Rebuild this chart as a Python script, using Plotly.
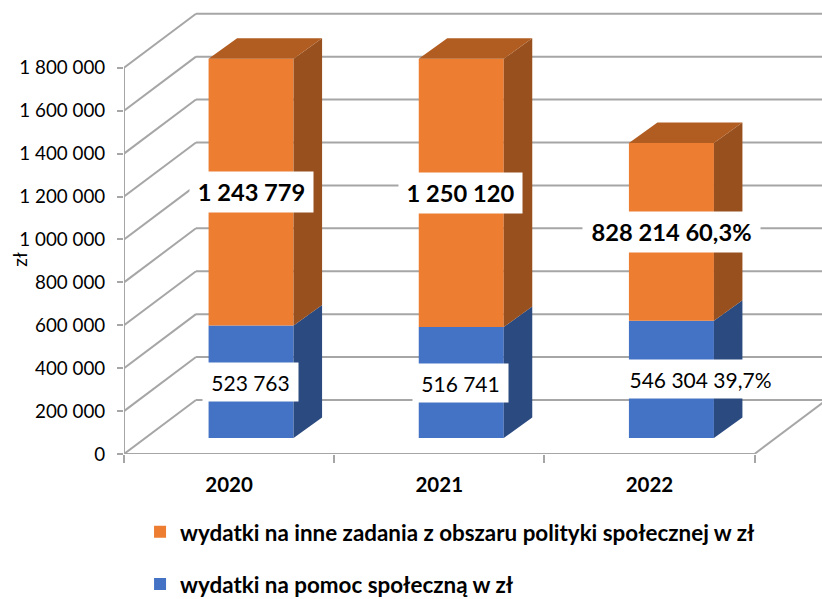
import plotly.graph_objects as go

YEARS = ["2020", "2021", "2022"]
POMOC = [523763, 516741, 546304]
INNE = [1243779, 1250120, 828214]
POMOC_LABELS = ["523 763", "516 741", "546 304 39,7%"]
INNE_LABELS = ["1 243 779", "1 250 120", "828 214 60,3%"]
Y_TICKS = [0, 200000, 400000, 600000, 800000, 1000000, 1200000, 1400000, 1600000, 1800000]
Y_TICK_LABELS = ["0", "200 000", "400 000", "600 000", "800 000", "1 000 000",
                 "1 200 000", "1 400 000", "1 600 000", "1 800 000"]
NAME_POMOC = "wydatki na pomoc społeczną w zł"
NAME_INNE = "wydatki na inne zadania z obszaru polityki społecznej w zł"

FONT = "Lato"
GRID = "#A6A6A6"
BLUE, BLUE_SIDE = "#4472C4", "#2B4A80"
ORANGE, ORANGE_SIDE, ORANGE_TOP = "#ED7D31", "#97501E", "#B15D22"

# pseudo-3D geometry in axis units
W, H = 822, 599
PX_X = 210.17
PX_Y = 214.44e-6
ML, MB = 124, 145.3
FLOOR_DX, FLOOR_DY = 72 / PX_X, 54 / PX_Y
BAR_SHIFT = 22 / PX_X
BAR_W = 85 / PX_X
BAR_BASE = 16 / PX_Y
DEPTH_X, DEPTH_Y = 28.5 / PX_X, 20.5 / PX_Y
X_RANGE = [-0.5, 2.5 + (W - 754.5) / PX_X]
Y_RANGE = [0, (H - MB) / PX_Y]

xs = [i + BAR_SHIFT for i in range(len(YEARS))]
tops_blue = [BAR_BASE + v for v in POMOC]
tops_all = [BAR_BASE + a + b for a, b in zip(POMOC, INNE)]

fig = go.Figure()
fig.add_bar(x=xs, y=POMOC, base=BAR_BASE, width=BAR_W, name=NAME_POMOC, legendrank=2,
            marker=dict(color=BLUE, line=dict(width=0)), legendgroup="a", hoverinfo="skip")
fig.add_bar(x=xs, y=INNE, base=tops_blue, width=BAR_W, name=NAME_INNE, legendrank=1,
            marker=dict(color=ORANGE, line=dict(width=0)), legendgroup="b", hoverinfo="skip")


def poly(pts_list, color):
    px, py = [], []
    for pts in pts_list:
        px += [p[0] for p in pts] + [pts[0][0], None]
        py += [p[1] for p in pts] + [pts[0][1], None]
    fig.add_scatter(x=px, y=py, mode="lines", fill="toself", fillcolor=color,
                    line=dict(width=0, color=color), showlegend=False, hoverinfo="skip")


def side(x, y0, y1):
    r = x + BAR_W / 2
    return [(r, y0), (r + DEPTH_X, y0 + DEPTH_Y), (r + DEPTH_X, y1 + DEPTH_Y), (r, y1)]


def top(x, y):
    l, r = x - BAR_W / 2, x + BAR_W / 2
    return [(l, y), (r, y), (r + DEPTH_X, y + DEPTH_Y), (l + DEPTH_X, y + DEPTH_Y)]


poly([side(x, BAR_BASE, t) for x, t in zip(xs, tops_blue)], BLUE_SIDE)
poly([side(x, b, t) for x, b, t in zip(xs, tops_blue, tops_all)], ORANGE_SIDE)
poly([top(x, t) for x, t in zip(xs, tops_all)], ORANGE_TOP)

# walls and floor
shapes = []


def seg(x0, y0, x1, y1, w=2):
    shapes.append(dict(type="line", layer="below", xref="x", yref="y", x0=x0, y0=y0, x1=x1, y1=y1,
                       line=dict(color=GRID, width=w)))


for t in Y_TICKS:
    seg(-0.5, t, -0.5 + FLOOR_DX, t + FLOOR_DY)
    seg(-0.5 + FLOOR_DX, t + FLOOR_DY, 2.5 + FLOOR_DX, t + FLOOR_DY)
seg(-0.5, 0, -0.5, Y_TICKS[-1])
seg(-0.5, 0, 2.5, 0)
seg(2.5, 0, 2.5 + FLOOR_DX, FLOOR_DY)

# data labels
annotations = []
LABEL_XSHIFT_BLUE = [-0.5, -1, 29]
LABEL_XSHIFT_ORANGE = [0.5, -0.5, 0]
BOX_W_BLUE = [95, 95, 163]
BOX_W_ORANGE = [123, 123, 177]
for i, x in enumerate(xs):
    annotations.append(dict(x=x, y=BAR_BASE + POMOC[i] / 2, xshift=LABEL_XSHIFT_BLUE[i], text=POMOC_LABELS[i],
                            showarrow=False, bgcolor="white", borderpad=0, width=BOX_W_BLUE[i], height=38,
                            font=dict(family=FONT, size=21, color="#000")))
    annotations.append(dict(x=x, y=tops_blue[i] + INNE[i] / 2, xshift=LABEL_XSHIFT_ORANGE[i],
                            text="<b>%s</b>" % INNE_LABELS[i],
                            showarrow=False, bgcolor="white", borderpad=0, width=BOX_W_ORANGE[i], height=40,
                            font=dict(family=FONT, size=23.7, color="#000")))
annotations.append(dict(xref="paper", yref="paper", x=0, y=(H - 259 - MB) / (H - MB),
                        xshift=-118, text="zł", textangle=-90, showarrow=False,
                        font=dict(family=FONT, size=19, color="#000")))

fig.update_layout(
    width=W, height=H, autosize=False,
    margin=dict(l=ML, r=0, t=0, b=MB, pad=0, autoexpand=False),
    paper_bgcolor="white", plot_bgcolor="white",
    barmode="overlay",
    font=dict(family=FONT, color="#000"),
    shapes=shapes, annotations=annotations,
    xaxis=dict(range=X_RANGE, showgrid=False, zeroline=False, showline=False,
               tickmode="array", tickvals=[0, 1, 2], ticktext=YEARS,
               ticks="outside", ticklen=0, tickwidth=0, ticklabelstandoff=12,
               tickfont=dict(family=FONT, size=20.5, weight="bold", color="#000"),
               minor=dict(tickmode="array", tickvals=[-0.5, 0.5, 1.5, 2.5], ticks="outside",
                          ticklen=8, tickwidth=2, tickcolor=GRID)),
    yaxis=dict(range=Y_RANGE, showgrid=False, zeroline=False, showline=False,
               tickmode="array", tickvals=Y_TICKS, ticktext=Y_TICK_LABELS,
               ticks="outside", ticklen=6, tickwidth=2, tickcolor=GRID, ticklabelstandoff=8,
               tickfont=dict(family=FONT, size=18.8, color="#000")),
    legend=dict(x=0.023, y=-0.125, xanchor="left", yanchor="top", bgcolor="rgba(0,0,0,0)",
                orientation="v", traceorder="grouped", tracegroupgap=20,
                font=dict(family=FONT, size=22.4, weight="bold", color="#000")),
)
fig.write_html("out.html", post_script="document.body.style.margin='0';",
               config=dict(displayModeBar=False))
